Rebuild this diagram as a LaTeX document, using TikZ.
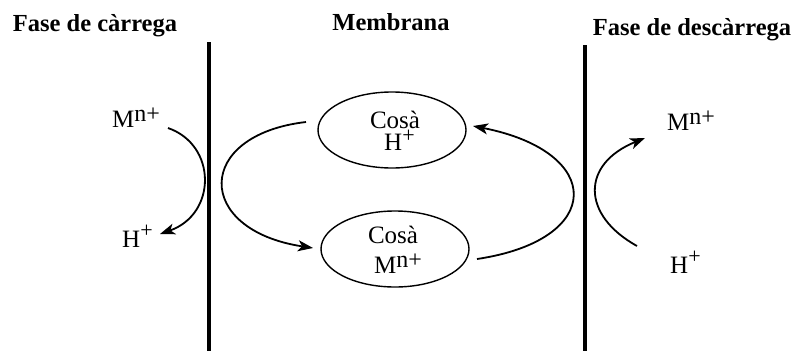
\documentclass[tikz,border=0pt]{standalone}
\usepackage{fontspec}
\setmainfont{Liberation Serif}
\usetikzlibrary{arrows.meta,shapes.geometric}
\newcommand\mysup[3]{\raisebox{#1}{\fontsize{#2}{#2}\selectfont #3}}
\tikzset{
  title/.style={font=\fontsize{24.5}{28}\selectfont\bfseries, inner sep=0pt, anchor=base},
  txt/.style={font=\fontsize{25}{28}\selectfont, inner sep=0pt, anchor=base west},
  wall/.style={line width=4pt},
  cyc/.style={draw, ellipse, line width=1.4pt, minimum width=148pt, minimum height=76pt, inner sep=0pt},
  arr/.style={line width=1.8pt, -{Stealth[length=15pt,width=11pt,inset=4pt]}},
  plain/.style={line width=1.8pt}
}
\begin{document}
\begin{tikzpicture}[x=1pt,y=-1pt]
\useasboundingbox (0,0) rectangle (799,351);
% titles
\node[title] (t1) at (95,31) {Fase de càrrega};
\node[title] (t2) at (391,30) {Membrana};
\node[title] (t3) at (692,35) {Fase de descàrrega};
% membrane walls
\coordinate (w1a) at (209,42);
\coordinate (w1b) at (209,351);
\coordinate (w2a) at (585,45);
\coordinate (w2b) at (585,351);
\draw[wall] (w1a) -- (w1b);
\draw[wall] (w2a) -- (w2b);
% left side
\node[txt] (lm) at (112,127) {M\mysup{6pt}{24}{n+}};
\node[txt] (lh) at (122,247) {H\mysup{10pt}{22}{+}};
\coordinate (la) at (168,128);
\coordinate (lb) at (160,234);
\draw[arr] (la) .. controls (217,145) and (217,214) .. (lb);
% ellipses
\node[cyc] (e1) at (392,130) {};
\node[cyc] (e2) at (395,249) {};
\node[txt, anchor=base] (c1) at (395,128) {Cosà};
\node[txt] (h1) at (384,150) {H\mysup{8pt}{22}{+}};
\node[txt, anchor=base] (c2) at (393,243) {Cosà};
\node[txt] (m2) at (374,273) {M\mysup{6pt}{24}{n+}};
\coordinate (ma) at (306,122);
\coordinate (mb) at (313,248);
\draw[arr] (ma) .. controls (194,135) and (194,230) .. (mb);
\coordinate (mc) at (477,259);
\coordinate (md) at (473,126);
\draw[arr] (mc) .. controls (605,240) and (605,152) .. (md);
% right side
\node[txt] (rm) at (667,130) {M\mysup{6pt}{24}{n+}};
\node[txt] (rh) at (670,273) {H\mysup{10pt}{22}{+}};
\coordinate (ra) at (637,246);
\coordinate (rb) at (645,138);
\draw[arr] (ra) .. controls (581,215) and (581,164) .. (rb);
\end{tikzpicture}
\end{document}
